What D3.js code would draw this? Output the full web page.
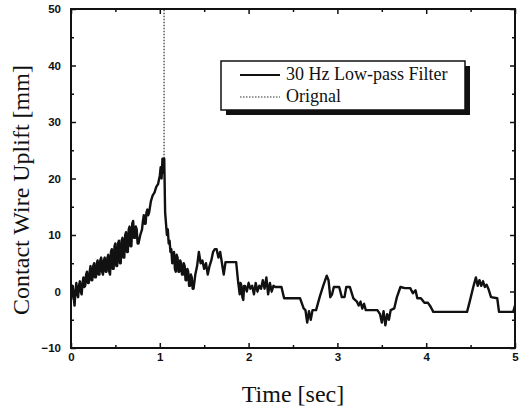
<!DOCTYPE html>
<html>
<head>
<meta charset="utf-8">
<script src="https://cdn.jsdelivr.net/npm/d3@7"></script>
<style>
  body { margin: 0; background: #fff; }
  .tick text { font-family: "Liberation Sans", Arial, sans-serif; font-weight: bold; font-size: 11.5px; fill: #111; }
  .title { font-family: "Liberation Serif", "Times New Roman", serif; fill: #111; }
</style>
</head>
<body>
<svg></svg>
<script>
var width = 526;
var height = 414;
var padLeft = 71, padRight = 515, padTop = 9, padBottom = 348;

// time [sec], uplift [mm]
var filtered = [
  [0.00, -1.5], [0.01, 0.5], [0.02, 1.0], [0.03, -1.0], [0.04, -2.5], [0.05, 0.0],
  [0.06, 1.5], [0.07, -0.5], [0.08, -1.0], [0.09, 1.0], [0.10, 1.8], [0.11, 0.0],
  [0.12, -0.5], [0.13, 1.5], [0.14, 2.5], [0.15, 0.8], [0.16, 1.0], [0.17, 3.0],
  [0.18, 3.5], [0.19, 1.5], [0.20, 1.5], [0.21, 3.5], [0.22, 4.5], [0.23, 2.0],
  [0.24, 2.0], [0.25, 4.5], [0.26, 5.0], [0.27, 2.5], [0.28, 2.5], [0.29, 5.0],
  [0.30, 5.5], [0.31, 3.0], [0.32, 3.0], [0.33, 5.5], [0.34, 6.0], [0.35, 3.5],
  [0.36, 3.0], [0.37, 5.5], [0.38, 6.0], [0.39, 3.5], [0.40, 3.5], [0.41, 6.0],
  [0.42, 6.5], [0.43, 3.5], [0.44, 3.0], [0.45, 7.0], [0.46, 7.5], [0.47, 4.0],
  [0.48, 4.0], [0.49, 8.0], [0.50, 8.5], [0.51, 4.5], [0.52, 4.5], [0.53, 8.5],
  [0.54, 9.0], [0.55, 5.0], [0.56, 5.0], [0.57, 9.0], [0.58, 9.5], [0.59, 6.0],
  [0.60, 6.0], [0.61, 10.0], [0.62, 10.5], [0.63, 7.0], [0.64, 7.0], [0.65, 11.0],
  [0.66, 11.5], [0.67, 8.0], [0.68, 8.0], [0.69, 12.0], [0.70, 12.5], [0.71, 9.5],
  [0.72, 9.5], [0.73, 11.5], [0.74, 11.0], [0.75, 8.5], [0.76, 8.5], [0.78, 10.0],
  [0.80, 11.0], [0.81, 12.5], [0.82, 13.5], [0.83, 12.0], [0.84, 12.0], [0.85, 14.0],
  [0.86, 14.5], [0.87, 13.5], [0.88, 14.0], [0.90, 16.0], [0.92, 17.0], [0.94, 17.5],
  [0.96, 18.5], [0.98, 19.0], [1.00, 20.5], [1.01, 22.0], [1.02, 20.0], [1.03, 23.5],
  [1.04, 21.0], [1.05, 23.5], [1.06, 14.0], [1.07, 12.0], [1.08, 10.0], [1.09, 11.0],
  [1.10, 8.5], [1.11, 9.0], [1.12, 7.0], [1.13, 7.5], [1.14, 5.0], [1.15, 6.5],
  [1.16, 7.0], [1.17, 4.0], [1.18, 3.5], [1.19, 6.5], [1.20, 6.0], [1.21, 3.5],
  [1.22, 3.5], [1.23, 5.5], [1.24, 5.0], [1.25, 3.0], [1.26, 3.0], [1.27, 5.0],
  [1.28, 4.5], [1.29, 2.0], [1.30, 2.0], [1.31, 4.0], [1.32, 3.5], [1.33, 1.0],
  [1.34, 1.0], [1.35, 3.0], [1.36, 2.5], [1.37, 0.5], [1.38, 0.5], [1.40, 3.0],
  [1.42, 4.5], [1.44, 7.0], [1.46, 5.0], [1.48, 5.5], [1.50, 4.0], [1.52, 5.0],
  [1.54, 3.0], [1.56, 4.5], [1.58, 5.5], [1.60, 7.0], [1.62, 7.5], [1.64, 7.5],
  [1.66, 6.0], [1.68, 7.0], [1.70, 5.0], [1.72, 3.0], [1.74, 5.2], [1.86, 5.2],
  [1.88, 2.0], [1.90, -0.5], [1.91, 1.5], [1.92, 1.0], [1.93, -1.0], [1.94, -1.5],
  [1.95, 1.0], [1.96, 1.0], [1.98, 0.0], [2.00, 1.5], [2.02, 0.5], [2.04, 1.0],
  [2.06, -0.5], [2.08, 1.5], [2.10, 0.0], [2.12, 1.0], [2.14, 0.5], [2.16, 2.0],
  [2.18, 0.5], [2.20, 2.5], [2.22, -0.5], [2.24, 1.5], [2.26, 0.0], [2.28, 1.0],
  [2.30, 0.8], [2.37, 0.8], [2.40, -1.2], [2.58, -1.2], [2.62, -3.0], [2.64, -3.3],
  [2.66, -5.5], [2.68, -3.5], [2.70, -5.0], [2.72, -3.3], [2.76, -3.3], [2.80, -1.0],
  [2.84, 1.0], [2.88, 2.8], [2.90, 2.0], [2.92, -1.0], [2.94, -0.5], [2.96, 0.8],
  [3.02, 0.8], [3.05, -1.0], [3.08, -1.0], [3.10, 0.8], [3.14, 0.8], [3.18, -1.2],
  [3.22, -1.8], [3.24, -2.5], [3.26, -1.8], [3.28, -3.0], [3.30, -2.2], [3.32, -3.3],
  [3.45, -3.3], [3.48, -4.0], [3.50, -5.5], [3.52, -3.5], [3.54, -6.0], [3.56, -4.0],
  [3.58, -5.0], [3.60, -3.3], [3.64, -3.0], [3.67, -1.0], [3.71, 0.8], [3.76, 0.6],
  [3.82, 0.6], [3.85, -0.3], [3.88, 0.2], [3.90, -1.2], [3.94, -1.2], [3.98, -2.0],
  [4.02, -2.0], [4.05, -2.7], [4.08, -3.6], [4.46, -3.6], [4.49, -1.8], [4.53, 0.8],
  [4.56, 2.5], [4.58, 1.0], [4.60, 2.0], [4.62, 1.0], [4.64, 1.8], [4.66, 0.8],
  [4.68, 1.2], [4.70, 0.5], [4.73, -1.0], [4.80, -1.2], [4.82, -3.6], [4.98, -3.6],
  [5.00, -2.5]
];

// raw signal: follows the filtered trace except for the impact spike near 1.05 s
var originalSpike = [[1.048, 24.0], [1.048, 80.0], [1.048, 24.0]];

var xTicks = [0, 1, 2, 3, 4, 5];
var xMinor = [0.5, 1.5, 2.5, 3.5, 4.5];
var yTicks = [-10, 0, 10, 20, 30, 40, 50];
var yMinor = [-5, 5, 15, 25, 35, 45];
var legendLabels = ['30 Hz Low-pass Filter', 'Orignal'];

var svg = d3.select('svg')
  .attr('width', width)
  .attr('height', height);

var x = d3.scaleLinear().domain([0, 5]).range([padLeft, padRight]);
var y = d3.scaleLinear().domain([-10, 50]).range([padBottom, padTop]);

svg.append('clipPath')
    .attr('id', 'clip')
  .append('rect')
    .attr('x', padLeft).attr('y', padTop)
    .attr('width', padRight - padLeft).attr('height', padBottom - padTop);

var line = d3.line()
  .x(d => x(d[0]))
  .y(d => y(d[1]));

var original = filtered.concat(originalSpike).sort((a, b) => a[0] - b[0]);

var plot = svg.append('g').attr('clip-path', 'url(#clip)');

plot.append('path')
  .datum(original)
  .attr('fill', 'none')
  .attr('stroke', '#333')
  .attr('stroke-width', 1.2)
  .attr('stroke-dasharray', '1.5,1.5')
  .attr('d', line);

plot.append('path')
  .datum(filtered)
  .attr('fill', 'none')
  .attr('stroke', '#111')
  .attr('stroke-width', 2.4)
  .attr('stroke-linejoin', 'round')
  .attr('d', line);

// axes, ticks pointing inward on all four sides
function styleAxis(g) {
  g.select('.domain').remove();
  g.selectAll('.tick line').attr('stroke', '#111').attr('stroke-width', 1.5);
}

svg.append('g')
  .attr('transform', `translate(0, ${padBottom})`)
  .call(d3.axisBottom(x).tickValues(xTicks).tickSize(-5).tickPadding(5).tickFormat(d3.format('d')))
  .call(styleAxis);
svg.append('g')
  .attr('transform', `translate(0, ${padBottom})`)
  .call(d3.axisBottom(x).tickValues(xMinor).tickSize(-3).tickFormat(''))
  .call(styleAxis);
svg.append('g')
  .attr('transform', `translate(0, ${padTop})`)
  .call(d3.axisTop(x).tickValues(xTicks).tickSize(-5).tickFormat(''))
  .call(styleAxis);
svg.append('g')
  .attr('transform', `translate(0, ${padTop})`)
  .call(d3.axisTop(x).tickValues(xMinor).tickSize(-3).tickFormat(''))
  .call(styleAxis);

svg.append('g')
  .attr('transform', `translate(${padLeft}, 0)`)
  .call(d3.axisLeft(y).tickValues(yTicks).tickSize(-5).tickPadding(10).tickFormat(d3.format('d')))
  .call(styleAxis);
svg.append('g')
  .attr('transform', `translate(${padLeft}, 0)`)
  .call(d3.axisLeft(y).tickValues(yMinor).tickSize(-3).tickFormat(''))
  .call(styleAxis);
svg.append('g')
  .attr('transform', `translate(${padRight}, 0)`)
  .call(d3.axisRight(y).tickValues(yTicks).tickSize(-5).tickFormat(''))
  .call(styleAxis);
svg.append('g')
  .attr('transform', `translate(${padRight}, 0)`)
  .call(d3.axisRight(y).tickValues(yMinor).tickSize(-3).tickFormat(''))
  .call(styleAxis);

svg.append('rect')
  .attr('x', padLeft).attr('y', padTop)
  .attr('width', padRight - padLeft).attr('height', padBottom - padTop)
  .attr('fill', 'none')
  .attr('stroke', '#111')
  .attr('stroke-width', 2);

// axis titles
svg.append('text')
  .classed('title', true)
  .attr('text-anchor', 'middle')
  .attr('x', (padLeft + padRight) / 2)
  .attr('y', 402)
  .attr('font-size', '24px')
  .text('Time [sec]');
svg.append('text')
  .classed('title', true)
  .attr('text-anchor', 'middle')
  .attr('transform', `translate(29, 190) rotate(-90)`)
  .attr('font-size', '24px')
  .text('Contact Wire Uplift [mm]');

// legend with drop shadow
var lx = 221, ly = 61, lw = 244, lh = 49;
svg.append('rect')
  .attr('x', lx + 5).attr('y', ly + 5)
  .attr('width', lw).attr('height', lh)
  .attr('fill', '#111');
svg.append('rect')
  .attr('x', lx).attr('y', ly)
  .attr('width', lw).attr('height', lh)
  .attr('fill', '#fff')
  .attr('stroke', '#111')
  .attr('stroke-width', 1.5);

var legend = svg.selectAll('.legend')
  .data(legendLabels)
  .enter()
  .append('g')
    .classed('legend', true)
    .attr('transform', (d, i) => `translate(${lx}, ${ly + 14 + i * 22})`);
legend.append('line')
  .attr('x1', 19).attr('x2', 59)
  .attr('stroke', (d, i) => i === 0 ? '#111' : '#333')
  .attr('stroke-width', (d, i) => i === 0 ? 2 : 1.2)
  .attr('stroke-dasharray', (d, i) => i === 0 ? null : '1.5,1.5');
legend.append('text')
  .classed('title', true)
  .attr('x', 65)
  .attr('y', 5)
  .attr('font-size', '18px')
  .text(d => d);
</script>
</body>
</html>
